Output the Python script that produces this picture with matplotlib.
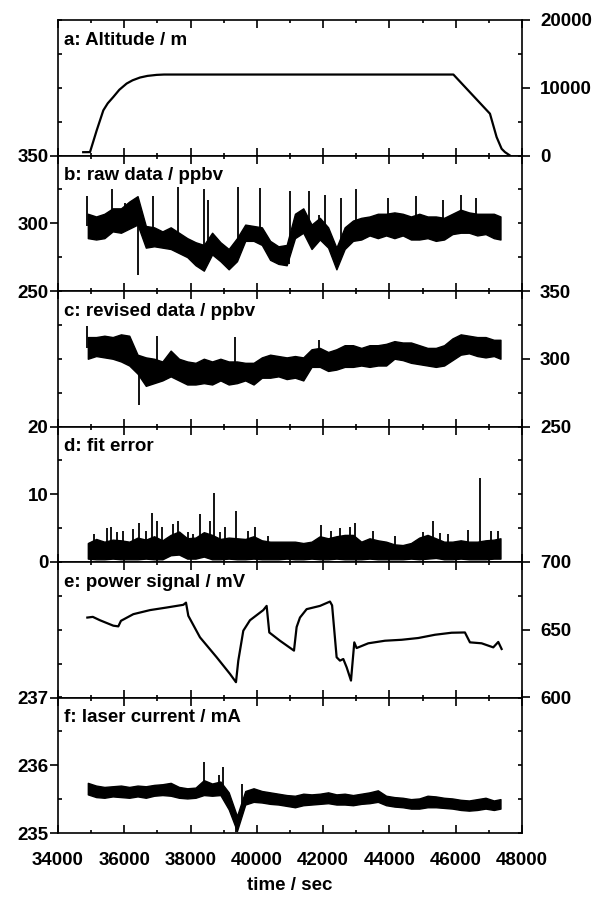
import numpy as np
import matplotlib
matplotlib.use("Agg")
import matplotlib.pyplot as plt
from matplotlib.lines import TICKLEFT, TICKRIGHT
from matplotlib.ticker import MultipleLocator

plt.rcParams['font.family'] = ['Liberation Sans', 'DejaVu Sans']
plt.rcParams['font.weight'] = 'bold'

# ---- data ----
# a: altitude / m
alt_t = [34760, 34965, 35060, 35167, 35368, 35500, 35669, 35850, 36071, 36250, 36474, 36700,
         36977, 37200, 45930, 47033, 47234, 47385, 47486, 47636]
alt_v = [490, 500, 2000, 3700, 6670, 7700, 8640, 9700, 10620, 11100, 11510, 11750,
         11900, 11950, 11950, 6170, 2720, 990, 500, 0]

# sampling times of the noisy band envelopes (b, c, d, f)
t_band = np.append(np.arange(34900, 47200, 250), 47350)

# b: raw data / ppbv (band upper / lower edge)
raw_hi = [307, 305, 307, 311, 311, 316, 320, 298, 297, 294, 297, 293, 289, 286, 284, 293, 286,
          281, 289, 299, 298, 297, 287, 283, 284, 307, 311, 299, 304, 297, 282, 297, 302, 304,
          305, 307, 307, 308, 307, 305, 307, 305, 305, 304, 307, 310, 308, 307, 307, 307, 305]
raw_lo = [289, 288, 289, 294, 293, 296, 299, 282, 283, 282, 281, 278, 275, 269, 265, 277, 272,
          266, 272, 287, 287, 284, 273, 270, 269, 289, 293, 281, 288, 282, 266, 281, 287, 288,
          291, 289, 291, 289, 291, 288, 288, 289, 287, 288, 292, 293, 293, 291, 292, 289, 288]
raw_spike_t = [34885, 35620, 36020, 36420, 36880, 37630, 38405, 38535, 39440, 40090, 40960,
               40990, 41570, 41865, 42045, 42548, 42981, 43956, 44790, 45615, 46148, 46621]
raw_spike_v = [320, 325, 315, 262, 320, 327, 325, 317, 327, 326, 270,
               324, 324, 306, 321, 319, 325, 319, 320, 317, 321, 319]

# c: revised data / ppbv
rev_hi = [316, 316, 317, 316, 318, 317, 303, 301, 300, 298, 306, 300, 298, 297, 300, 298, 300,
          298, 298, 297, 297, 301, 303, 302, 301, 302, 301, 307, 308, 305, 307, 310, 310, 308,
          310, 310, 311, 313, 312, 312, 310, 308, 308, 310, 315, 318, 317, 316, 316, 314, 314]
rev_lo = [300, 302, 301, 300, 298, 295, 289, 280, 282, 284, 287, 284, 281, 281, 282, 281, 284,
          281, 282, 284, 281, 286, 286, 287, 285, 286, 284, 294, 294, 291, 292, 294, 294, 295,
          294, 295, 295, 300, 299, 297, 296, 295, 294, 295, 299, 303, 304, 302, 301, 302, 300]
rev_spike_t = [34885, 36440, 36977, 39340, 41860]
rev_spike_v = [324, 266, 317, 316, 314]

# d: fit error
err_hi = [2.8, 3.4, 3.0, 3.3, 3.2, 3.0, 3.6, 3.3, 3.8, 3.2, 4.0, 4.5, 3.5, 3.6, 4.4, 4.0, 3.4,
          3.6, 3.5, 3.4, 3.8, 3.2, 3.0, 3.0, 3.0, 3.0, 2.8, 3.0, 3.8, 3.5, 3.8, 4.0, 4.0, 3.0,
          3.5, 3.2, 3.0, 2.6, 2.5, 2.8, 3.6, 4.0, 3.5, 3.0, 3.0, 3.2, 3.0, 3.0, 3.2, 3.3, 3.5]
err_lo = [0.5, 0.4, 0.4, 0.5, 0.4, 0.4, 0.4, 0.5, 0.4, 0.4, 1.0, 1.1, 0.5, 0.5, 0.8, 0.4, 0.4,
          0.5, 0.4, 0.4, 0.5, 0.4, 0.4, 0.4, 0.5, 0.4, 0.4, 0.5, 0.4, 0.4, 0.5, 0.4, 0.4, 0.4,
          0.5, 0.4, 0.4, 0.4, 0.4, 0.5, 0.4, 0.5, 0.6, 0.4, 0.4, 0.5, 0.4, 0.4, 0.4, 0.5, 0.5]
err_spike_t = [35096, 35469, 35599, 35770, 35971, 36273, 36444, 36645, 36825, 36977, 37130,
               37479, 37630, 37932, 38085, 38284, 38586, 38716, 38887, 39039, 39360, 39742,
               39944, 40345, 41945, 42247, 42518, 42800, 42950, 43504, 44162, 45012, 45314,
               45519, 45770, 46370, 46742, 47074, 47275]
err_spike_v = [4.1, 5.0, 5.2, 4.4, 4.6, 4.9, 5.7, 4.6, 7.2, 6.0, 5.1,
               5.6, 6.0, 4.4, 4.1, 7.1, 6.0, 10.2, 4.4, 5.1, 7.6, 4.6,
               5.1, 3.8, 5.4, 4.6, 5.0, 5.2, 5.7, 4.6, 3.8, 4.4, 6.0,
               4.3, 4.1, 4.7, 12.4, 4.6, 4.6]

# e: power signal / mV
pow_t = [34885, 35050, 35267, 35669, 35820, 35900, 36273, 36776, 37278, 37781, 37862, 37932,
         38284, 38787, 39189, 39370, 39440, 39591, 39792, 40194, 40295, 40375, 40697, 41120,
         41200, 41301, 41502, 41904, 42206, 42270, 42407, 42508, 42608, 42709, 42840, 42940,
         43010, 43362, 43865, 44368, 44870, 45373, 45876, 46278, 46429, 46781, 47133, 47284, 47385]
pow_v = [659, 659.5, 657, 653, 652.5, 656.6, 661.5, 664.5, 666.4, 668.4, 670, 660.3,
         644.4, 629.7, 617.4, 611.3, 627.2, 649.3, 657, 664.5, 667.6, 648, 641.9, 634.6,
         652, 659, 665.2, 667.6, 670.8, 668, 629.7, 627.2, 628.4, 622.3, 612.5, 640.7,
         636.5, 640, 641.9, 642.6, 643.9, 646.3, 647.8, 648, 640.7, 640, 637, 641, 635.8]

# f: laser current / mA
cur_hi = [235.74, 235.70, 235.68, 235.69, 235.70, 235.68, 235.70, 235.69, 235.71, 235.72,
          235.74, 235.68, 235.66, 235.67, 235.78, 235.73, 235.76, 235.60, 235.25, 235.62,
          235.66, 235.62, 235.60, 235.58, 235.56, 235.55, 235.58, 235.57, 235.58, 235.60,
          235.57, 235.58, 235.56, 235.58, 235.60, 235.63, 235.55, 235.53, 235.52, 235.50,
          235.51, 235.55, 235.54, 235.52, 235.51, 235.49, 235.48, 235.50, 235.52, 235.48, 235.50]
cur_lo = [235.57, 235.53, 235.52, 235.54, 235.53, 235.52, 235.54, 235.52, 235.55, 235.56,
          235.55, 235.52, 235.51, 235.52, 235.56, 235.55, 235.56, 235.35, 235.03, 235.42,
          235.46, 235.45, 235.43, 235.42, 235.40, 235.38, 235.41, 235.42, 235.43, 235.44,
          235.42, 235.42, 235.41, 235.43, 235.44, 235.46, 235.41, 235.39, 235.38, 235.36,
          235.36, 235.38, 235.38, 235.37, 235.36, 235.34, 235.33, 235.34, 235.36, 235.34, 235.36]
cur_spike_t = [38405, 38870, 38968, 39370, 39541]
cur_spike_v = [236.05, 235.85, 235.98, 235.02, 235.73]

labels = ['a: Altitude / m', 'b: raw data / ppbv', 'c: revised data / ppbv',
          'd: fit error', 'e: power signal / mV', 'f: laser current / mA']

FS = 13.5

fig = plt.figure(figsize=(5.94, 9.01), dpi=100)
L, W = 58 / 594, 464 / 594
top_px, h_px = 20, 135.5
axes = []
for i in range(6):
    y0 = 1 - (top_px + h_px * (i + 1)) / 901
    axes.append(fig.add_axes([L, y0, W, h_px / 901]))


def style(ax, lo, hi, step, side, bottom=False):
    ax.set_xlim(34000, 48000)
    ax.set_ylim(lo, hi)
    for s in ax.spines.values():
        s.set_linewidth(1.2)
    ax.xaxis.set_major_locator(MultipleLocator(2000))
    ax.xaxis.set_minor_locator(MultipleLocator(1000))
    ax.yaxis.set_major_locator(MultipleLocator(step))
    ax.yaxis.set_minor_locator(MultipleLocator(step / 2))
    ax.tick_params(axis='x', which='both', direction='in', top=True, bottom=True,
                   labelbottom=bottom, width=1.2, labelsize=FS, pad=14)
    ax.tick_params(axis='x', which='major', length=6)
    ax.tick_params(axis='x', which='minor', length=2.5)
    ax.tick_params(axis='y', which='both', direction='in', left=True, right=True, width=1.2,
                   labelleft=(side == 'left'), labelright=(side == 'right'), labelsize=FS)
    ax.tick_params(axis='y', which='major', length=3, pad=(7 if side == 'left' else 13))
    ax.tick_params(axis='y', which='minor', length=3)
    # major ticks on the labelled side point outwards
    for tk in ax.yaxis.get_major_ticks():
        if side == 'left':
            tk.tick1line.set_marker(TICKLEFT)
            tk.tick1line.set_markersize(6)
        else:
            tk.tick2line.set_marker(TICKRIGHT)
            tk.tick2line.set_markersize(6)


def band(ax, hi, lo, sp_t, sp_v):
    hi = np.array(hi)
    lo = np.array(lo)
    ax.fill_between(t_band, lo, hi, color='k', lw=1.0)
    base = np.interp(sp_t, t_band, (hi + lo) / 2)
    ax.vlines(sp_t, base, sp_v, color='k', lw=1.3)


ax = axes[0]
ax.plot(alt_t, alt_v, color='k', lw=1.6)
style(ax, 0, 20000, 10000, 'right')

ax = axes[1]
band(ax, raw_hi, raw_lo, raw_spike_t, raw_spike_v)
style(ax, 250, 350, 50, 'left')

ax = axes[2]
band(ax, rev_hi, rev_lo, rev_spike_t, rev_spike_v)
style(ax, 250, 350, 50, 'right')

ax = axes[3]
band(ax, err_hi, err_lo, err_spike_t, err_spike_v)
style(ax, 0, 20, 10, 'left')

ax = axes[4]
ax.plot(pow_t, pow_v, color='k', lw=1.6)
style(ax, 600, 700, 50, 'right')

ax = axes[5]
band(ax, cur_hi, cur_lo, cur_spike_t, cur_spike_v)
style(ax, 235, 237, 1, 'left', bottom=True)

for ax, lab in zip(axes, labels):
    ax.text(0.012, 0.85, lab, transform=ax.transAxes, fontsize=FS,
            fontweight='bold', va='center', ha='left')

fig.text(290 / 594, 1 - 885 / 901, 'time / sec', ha='center', va='center',
         fontsize=FS, fontweight='bold')

fig.savefig('out.png', dpi=100)
